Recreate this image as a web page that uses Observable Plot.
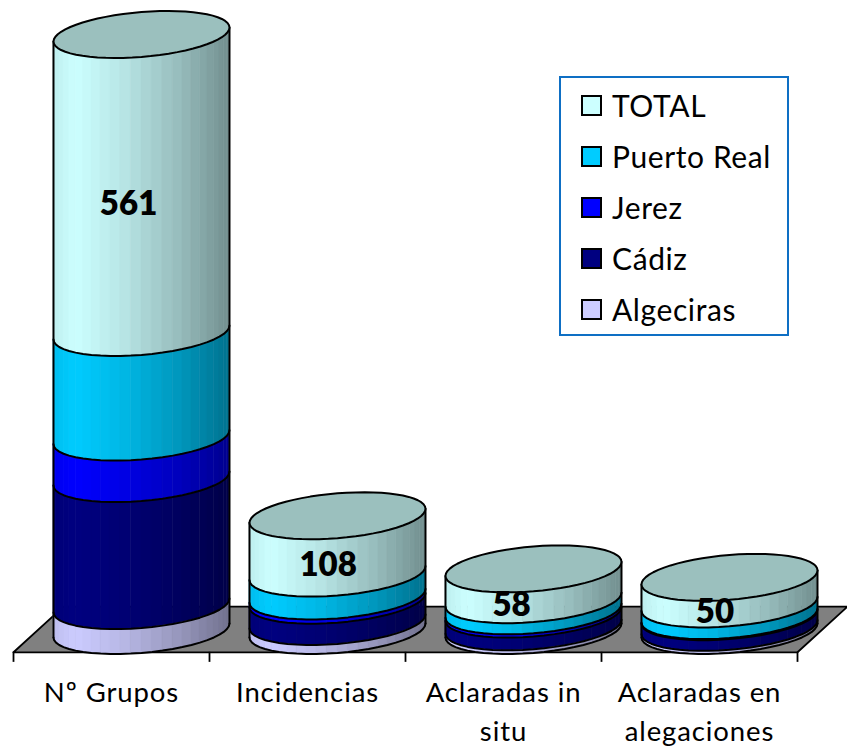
<!DOCTYPE html>
<html><head><meta charset="utf-8">
<script src="https://cdn.jsdelivr.net/npm/d3@7"></script>
<script src="https://cdn.jsdelivr.net/npm/@observablehq/plot@0.6"></script>
<style>
html,body{margin:0;padding:0;background:#fff}
#wrap{position:relative;width:847px;height:749px;overflow:hidden;font-family:Lato,sans-serif}
#wrap svg{display:block}
#legend{position:absolute;left:559px;top:76px;width:226px;height:256px;border:2px solid #0e6fc4;background:#fff}
.row{position:absolute;left:0;height:30px;line-height:30px;font-size:30px;color:#000;white-space:nowrap}
.sw{position:absolute;left:20px;top:5px;width:17px;height:17px;border:2px solid #000;box-sizing:content-box}
.lb{position:absolute;left:51px;top:0;letter-spacing:.6px}
</style></head><body>
<div id="wrap"><div id="chart"></div><div id="legend"></div></div>
<script>
const categories = ["Nº Grupos","Incidencias","Aclaradas in\nsitu","Aclaradas en\nalegaciones"];
const seriesNames = ["Algeciras","Cádiz","Jerez","Puerto Real","TOTAL"];
const seriesColors = ["#CCCCFF","#000080","#0000FF","#00CCFF","#CCFFFF"];
const algeciras = [47,17,7,6];
const cadiz = [239,40,24,20];
const jerez = [78,8,6,2];
const puertoReal = [197,43,21,22];
const total = [561,108,58,50];
const series = [algeciras,cadiz,jerez,puertoReal,total];
const labelNudge = [-0.066,-0.048,-0.112,-0.074];

// cylinder geometry, in scale units
const cyl = {shift:0.653, rx:0.449, tilt:13.2, depth:42.2, strips:26, labelLift:2};
const topColor = "#9bc0be";
const shade = d3.scaleLinear().domain([-1,-0.75,-0.2,0.5,1]).range([0.93,1,0.9,0.72,0.56]);
const tint = (c,k)=>{const r=d3.rgb(c);return d3.rgb(r.r*k,r.g*k,r.b*k).formatHex();};
const ex = (i,t)=> i+cyl.shift+cyl.rx*Math.cos(t);
const ey = (v,t)=> v + cyl.tilt*Math.cos(t) - cyl.depth*Math.sin(t);

const strips=[], arcs=[], edges=[], tops=[], labels=[];
categories.forEach((c,i)=>{
  let b=0;
  const front=(v,id)=>{for(let k=0;k<=cyl.strips;k++){const t=Math.PI*(1-k/cyl.strips);arcs.push({id,x:ex(i,t),y:ey(v,t)});}};
  front(0,`${i}-base`);
  series.forEach((s,j)=>{
    const v0=b, v1=b+s[i];
    for(let k=0;k<cyl.strips;k++){
      const ta=Math.PI*(1-k/cyl.strips), tb=Math.PI*(1-(k+1)/cyl.strips);
      const col=tint(seriesColors[j],shade((Math.cos(ta)+Math.cos(tb))/2));
      const id=`${i}-${j}-${k}`;
      strips.push({id,color:col,x:ex(i,ta),lo:ey(v0,ta),hi:ey(v1,ta)});
      strips.push({id,color:col,x:ex(i,tb)+0.002,lo:ey(v0,tb),hi:ey(v1,tb)});
    }
    if(j<series.length-1) front(v1,`${i}-${j}`);
    b=v1;
  });
  edges.push({id:`${i}L`,x:ex(i,Math.PI),y:ey(0,Math.PI)},{id:`${i}L`,x:ex(i,Math.PI),y:ey(b,Math.PI)});
  edges.push({id:`${i}R`,x:ex(i,0),y:ey(0,0)},{id:`${i}R`,x:ex(i,0),y:ey(b,0)});
  for(let k=0;k<=60;k++){const t=2*Math.PI*k/60;tops.push({id:i,x:ex(i,t),y:ey(b,t)});}
  const cut=b-total[i];
  labels.push({x:i+cyl.shift+labelNudge[i],y:(cut+b)/2-cyl.depth+cyl.labelLift,text:String(total[i])});
});

const floorFront=-41, floorBack=45, floorSkew=0.255, tickEnd=-60, labelTop=-83;
const floor=[[0,floorFront],[4,floorFront],[4+floorSkew,floorBack],[floorSkew,floorBack],[0,floorFront]];
const ticks=d3.range(5);

const plot=Plot.plot({
  width:847,height:749,margin:0,
  x:{type:"linear",domain:[0,4],range:[13,797],axis:null},
  y:{type:"linear",domain:[0,1122],range:[630,34],axis:null},
  color:{type:"identity"},
  style:{background:"transparent",fontFamily:"Lato,sans-serif"},
  marks:[
    Plot.line(floor,{x:d=>d[0],y:d=>d[1],fill:"#808080",stroke:"#000",strokeWidth:1.8}),
    Plot.ruleX(ticks,{x:d=>d,y1:floorFront,y2:tickEnd,stroke:"#000",strokeWidth:1.8}),
    Plot.area(strips,{x1:"x",y1:"lo",y2:"hi",z:"id",fill:"color",curve:"linear",stroke:"color",strokeWidth:0.3}),
    Plot.line(arcs,{x:"x",y:"y",z:"id",stroke:"#000",strokeWidth:2,curve:"linear"}),
    Plot.line(edges,{x:"x",y:"y",z:"id",stroke:"#000",strokeWidth:2}),
    Plot.line(tops,{x:"x",y:"y",z:"id",fill:topColor,stroke:"#000",strokeWidth:2,curve:"linear"}),
    Plot.text(labels,{x:"x",y:"y",text:"text",fontSize:33,fontWeight:800,fill:"#000"}),
    Plot.text(categories,{x:(d,i)=>i+0.5,y:labelTop,text:d=>d,fontSize:27.5,lineHeight:1.42,lineAnchor:"top",textAnchor:"middle",fill:"#000",
      render(index,scales,values,dims,ctx,next){const g=next(index,scales,values,dims,ctx);g.style.letterSpacing="0.9px";return g;}})
  ]
});
document.getElementById("chart").appendChild(plot);

const legend=document.getElementById("legend");
const rowTops=[12,63,114,165,216];
[...seriesNames].reverse().forEach((n,i)=>{
  const c=[...seriesColors].reverse()[i];
  const r=document.createElement("div");r.className="row";r.style.top=rowTops[i]+"px";
  r.innerHTML=`<span class="sw" style="background:${c}"></span><span class="lb">${n}</span>`;
  legend.appendChild(r);
});
</script></body></html>
